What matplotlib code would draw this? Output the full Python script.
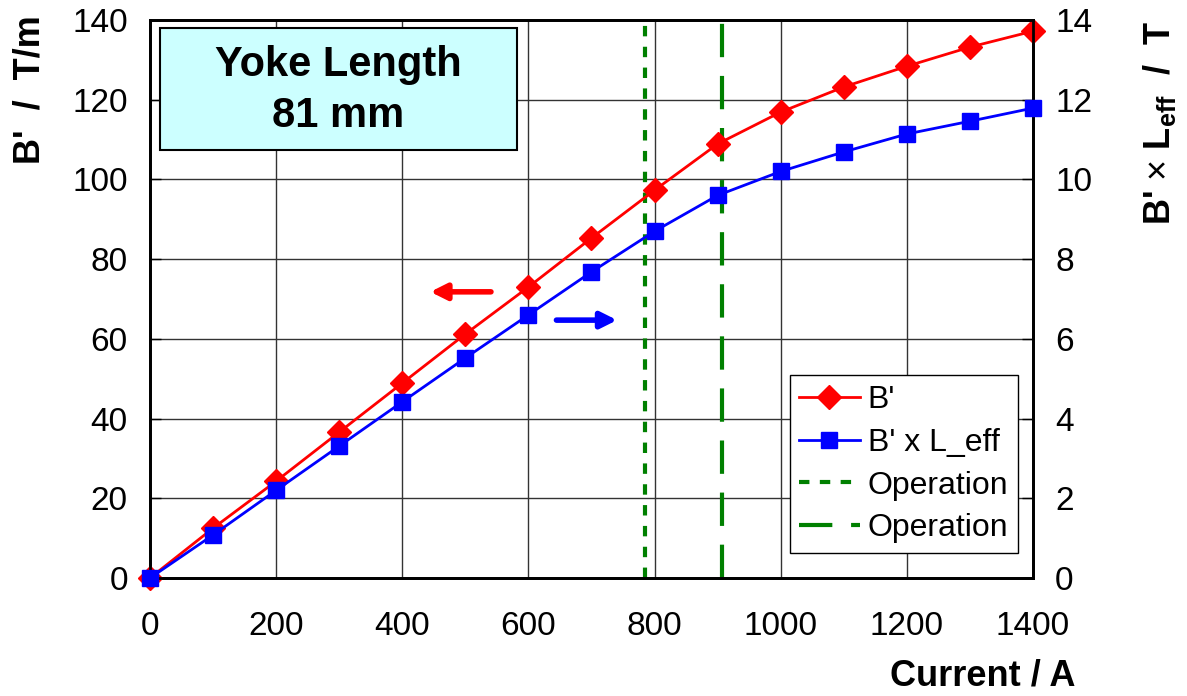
import numpy as np
import matplotlib
matplotlib.use("Agg")
import matplotlib.pyplot as plt
from matplotlib.patches import Rectangle

plt.rcParams['font.family'] = ['Liberation Sans', 'DejaVu Sans']
plt.rcParams['mathtext.fontset'] = 'custom'
plt.rcParams['mathtext.rm'] = 'Liberation Sans'
plt.rcParams['mathtext.bf'] = 'Liberation Sans:bold'

# data
current = [0, 100, 200, 300, 400, 500, 600, 700, 800, 900, 1000, 1100, 1200, 1300, 1400]
gradient = [0, 12.5, 24.3, 36.6, 48.9, 61.2, 73.0, 85.3, 97.3, 108.9, 116.9, 123.2, 128.4, 133.2, 137.2]
integrated = [0, 1.08, 2.2, 3.31, 4.42, 5.52, 6.6, 7.68, 8.7, 9.6, 10.2, 10.69, 11.14, 11.46, 11.79]
op_dotted = 785
op_dashed = 907

fig = plt.figure(figsize=(11.87, 6.96), dpi=100)
ax = fig.add_axes([150/1187, 1 - 578/696, 883/1187, 558/696])
ax2 = ax.twinx()

ax.set_xlim(0, 1400)
ax.set_ylim(0, 140)
ax2.set_ylim(0, 14)
ax.set_xticks(np.arange(0, 1401, 200))
ax.set_yticks(np.arange(0, 141, 20))
ax2.set_yticks(np.arange(0, 15, 2))
ax.grid(True, color='#333333', linewidth=1)

for a in (ax, ax2):
    for s in a.spines.values():
        s.set_linewidth(2)
ax.tick_params(axis='y', direction='in', length=8, width=1, labelsize=24, pad=16)
ax.tick_params(axis='x', direction='in', length=0, labelsize=24, pad=24)
ax2.tick_params(axis='y', direction='in', length=8, width=1, labelsize=24, pad=16)

l1, = ax.plot(current, gradient, color='red', lw=2, marker='D', ms=12,
              clip_on=False, zorder=5, label="B'")
l2, = ax2.plot(current, integrated, color='blue', lw=2, marker='s', ms=12,
               clip_on=False, zorder=5, label="B' x L_eff")
l3 = ax.axvline(op_dotted, color='#008000', lw=3, linestyle=(0, (2.5, 2.5)), label='Operation')
l4 = ax.axvline(op_dashed, color='#008000', lw=3, linestyle=(0, (8, 4.5)), label='Operation')

# direction arrows
ax.annotate('', xy=(440, 71.8), xytext=(545, 71.8),
            arrowprops=dict(arrowstyle='-|>', color='red', lw=4, mutation_scale=24))
ax.annotate('', xy=(745, 64.7), xytext=(640, 64.7),
            arrowprops=dict(arrowstyle='-|>', color='blue', lw=4, mutation_scale=24))

# title box
ax.add_patch(Rectangle((0.0113, 0.767), 0.404, 0.219, transform=ax.transAxes,
                       facecolor='#ccffff', edgecolor='black', lw=1.5, zorder=6))
ax.text(0.213, 0.873, 'Yoke Length\n81 mm', transform=ax.transAxes, ha='center',
        va='center', fontsize=30, fontweight='bold', linespacing=1.35, zorder=7)

leg = ax.legend(handles=[l1, l2, l3, l4], loc='lower right', bbox_to_anchor=(0.983, 0.045),
                borderaxespad=0, fontsize=23, fancybox=False, framealpha=1,
                edgecolor='black', handlelength=1.9, handletextpad=0.25,
                borderpad=0.3, labelspacing=0.4)
leg.get_frame().set_linewidth(1)
leg.set_zorder(10)

fig.text(30/1187, 1 - 90/696, "B'  /  T/m", rotation=90, ha='center', va='center',
         fontsize=26, fontweight='bold')
fig.text(1160/1187, 1 - 123/696, r"B' $\times$ L$_{\mathbf{eff}}$  /  T", rotation=90,
         ha='center', va='center', fontsize=26, fontweight='bold')
fig.text(1075/1187, 1 - 685/696, 'Current / A', ha='right', va='baseline',
         fontsize=26, fontweight='bold')

fig.savefig('out.png', dpi=100)
